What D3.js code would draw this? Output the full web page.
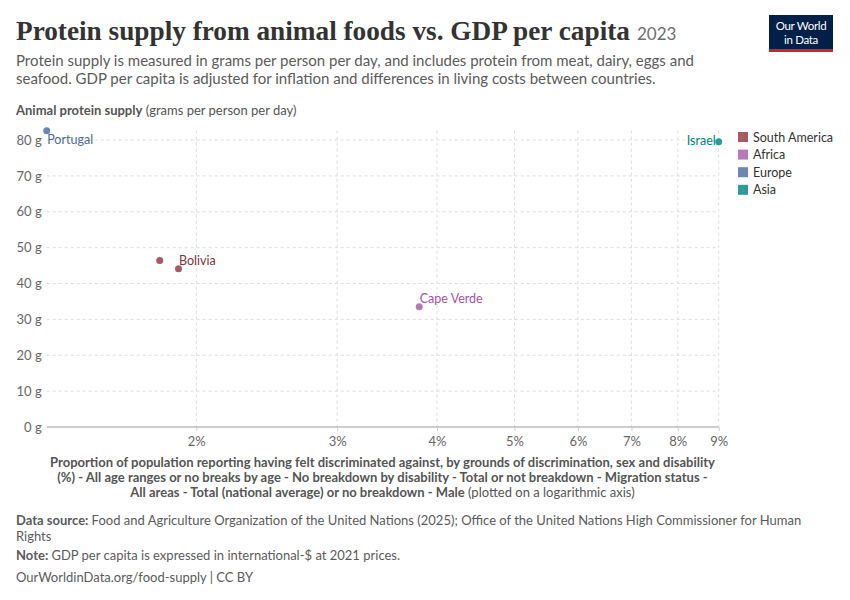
<!DOCTYPE html>
<html>
<head>
<meta charset="utf-8">
<script src="https://cdn.jsdelivr.net/npm/d3@7"></script>
<style>
  body { margin: 0; background: #fff; }
  svg { font-family: Lato, "Noto Sans", sans-serif; }
</style>
</head>
<body>
<svg id="chart" width="850" height="600"></svg>
<script>
// data (2023)
var countries = ["Portugal", "South America point", "Bolivia", "Cape Verde", "Israel"];
var regions = ["Europe", "South America", "South America", "Africa", "Asia"];
var discrimination = [1.30, 1.80, 1.90, 3.80, 9.0];   // % of males, log axis
var animalProtein = [82.6, 46.4, 44.1, 33.5, 79.5];   // g per person per day
var labelled = [true, false, true, true, true];

var legendRegions = ["South America", "Africa", "Europe", "Asia"];
var regionColors = ["#a55a64", "#b879b8", "#6e86b4", "#2e9c94"];
var labelColors = ["#883039", "#a2559c", "#4c6a9c", "#00847e"];
var yTicks = [0, 10, 20, 30, 40, 50, 60, 70, 80];
var xTicks = [2, 3, 4, 5, 6, 7, 8, 9];

var svg = d3.select("#chart");
var margin = {left: 46.7, right: 718.7, top: 130.7, bottom: 427};

var points = countries.map(function(c, i){
  return {name: c, region: regions[i], x: discrimination[i], y: animalProtein[i], label: labelled[i]};
});

var color = d3.scaleOrdinal().domain(legendRegions).range(regionColors);
var labelColor = d3.scaleOrdinal().domain(legendRegions).range(labelColors);

var x = d3.scaleLog()
    .domain(d3.extent(discrimination))
    .range([margin.left, margin.right]);
var y = d3.scaleLinear()
    .domain([0, d3.max(animalProtein)])
    .range([margin.bottom, margin.top]);

// title
var title = svg.append("text")
    .attr("x", 16)
    .attr("y", 40)
    .attr("font-family", "'Liberation Serif', 'DejaVu Serif', serif")
    .attr("font-weight", "bold")
    .attr("font-size", 25)
    .attr("fill", "#333")
    .text("Protein supply from animal foods vs. GDP per capita");
var tw = title.node().getComputedTextLength();
title.attr("font-size", 25 * 614 / tw);
svg.append("text")
    .attr("x", 637)
    .attr("y", 40)
    .attr("font-size", 17)
    .attr("fill", "#6e6e6e")
    .text("2023");

// subtitle
var subtitle = [
  "Protein supply is measured in grams per person per day, and includes protein from meat, dairy, eggs and",
  "seafood. GDP per capita is adjusted for inflation and differences in living costs between countries."
];
svg.selectAll(".sub")
    .data(subtitle)
    .enter().append("text")
    .attr("class", "sub")
    .attr("x", 16)
    .attr("y", function(d, i){ return 66 + i * 18; })
    .attr("font-size", 15)
    .attr("fill", "#5b5b5b")
    .text(function(d){ return d; });

// logo
var logo = svg.append("g").attr("transform", "translate(769,15)");
logo.append("rect").attr("width", 64).attr("height", 36).attr("fill", "#002147");
logo.append("rect").attr("y", 34).attr("width", 64).attr("height", 3).attr("fill", "#ce261e");
logo.selectAll("text")
    .data(["Our World", "in Data"])
    .enter().append("text")
    .attr("x", 32)
    .attr("y", function(d, i){ return 15 + i * 13.5; })
    .attr("text-anchor", "middle")
    .attr("font-size", 11.5)
    .attr("fill", "#fff")
    .attr("letter-spacing", -0.3)
    .text(function(d){ return d; });

// y axis title
var yt = svg.append("text")
    .attr("x", 16)
    .attr("y", 115)
    .attr("font-size", 13)
    .attr("fill", "#555");
yt.append("tspan").attr("font-weight", "bold").text("Animal protein supply");
yt.append("tspan").text(" (grams per person per day)");

// gridlines
svg.append("g")
    .selectAll("line")
    .data(yTicks.filter(function(d){ return d > 0; }))
    .enter().append("line")
    .attr("x1", margin.left)
    .attr("x2", margin.right)
    .attr("y1", function(d){ return y(d); })
    .attr("y2", function(d){ return y(d); })
    .attr("stroke", "#ddd")
    .attr("stroke-dasharray", "3,3");

svg.append("g")
    .selectAll("line")
    .data(xTicks)
    .enter().append("line")
    .attr("x1", function(d){ return x(d); })
    .attr("x2", function(d){ return x(d); })
    .attr("y1", margin.top)
    .attr("y2", margin.bottom)
    .attr("stroke", "#ddd")
    .attr("stroke-dasharray", "3,3");

// y axis labels
var yAxis = d3.axisLeft(y)
    .tickValues(yTicks)
    .tickSize(0)
    .tickPadding(5)
    .tickFormat(function(d){ return d + " g"; });
var gy = svg.append("g")
    .attr("transform", "translate(" + margin.left + ",0)")
    .call(yAxis);
gy.select(".domain").remove();
gy.selectAll("text")
    .attr("font-family", "Lato, sans-serif")
    .attr("font-size", 13)
    .attr("fill", "#666");

// x axis
var xAxis = d3.axisBottom(x)
    .tickValues(xTicks)
    .tickSize(4)
    .tickPadding(6)
    .tickFormat(function(d){ return d + "%"; });
var gx = svg.append("g")
    .attr("transform", "translate(0," + margin.bottom + ")")
    .call(xAxis);
gx.select(".domain").attr("stroke", "#999").attr("d", "M" + margin.left + ",0H" + margin.right);
gx.selectAll(".tick line").attr("stroke", "#ccc");
gx.selectAll("text")
    .attr("font-family", "Lato, sans-serif")
    .attr("font-size", 13)
    .attr("fill", "#666");

// x axis title
var xTitle = [
  [["Proportion of population reporting having felt discriminated against, by grounds of discrimination, sex and disability", true]],
  [["(%) - All age ranges or no breaks by age - No breakdown by disability - Total or not breakdown - Migration status -", true]],
  [["All areas - Total (national average) or no breakdown - Male", true], [" (plotted on a logarithmic axis)", false]]
];
xTitle.forEach(function(parts, i){
  var t = svg.append("text")
      .attr("x", 382.5)
      .attr("y", 467 + i * 15)
      .attr("text-anchor", "middle")
      .attr("font-size", 13)
      .attr("fill", "#555");
  parts.forEach(function(p){
    t.append("tspan").attr("font-weight", p[1] ? "bold" : "normal").text(p[0]);
  });
});

// points
svg.append("g")
    .selectAll("circle")
    .data(points)
    .enter().append("circle")
    .attr("cx", function(d){ return x(d.x); })
    .attr("cy", function(d){ return y(d.y); })
    .attr("r", 3.5)
    .attr("fill", function(d){ return color(d.region); });

// labels: placed to the side with free space
svg.append("g")
    .selectAll("text")
    .data(points.filter(function(d){ return d.label; }))
    .enter().append("text")
    .attr("x", function(d){
      var px = x(d.x);
      return px > margin.right - 20 ? px - 3 : px + 0.5;
    })
    .attr("y", function(d){
      var py = y(d.y);
      if (py < margin.top + 5) return py + 13;   // near top edge: below
      if (x(d.x) > margin.right - 20) return py + 3;
      return py - 4;
    })
    .attr("text-anchor", function(d){ return x(d.x) > margin.right - 20 ? "end" : "start"; })
    .attr("font-size", 12.5)
    .attr("fill", function(d){ return labelColor(d.region); })
    .text(function(d){ return d.name; });

// legend
var legend = svg.append("g").attr("transform", "translate(738,132)");
var li = legend.selectAll("g")
    .data(legendRegions)
    .enter().append("g")
    .attr("transform", function(d, i){ return "translate(0," + i * 17.6 + ")"; });
li.append("rect")
    .attr("width", 10)
    .attr("height", 10)
    .attr("fill", function(d){ return color(d); });
li.append("text")
    .attr("x", 15)
    .attr("y", 9.5)
    .attr("font-size", 12.5)
    .attr("fill", "#333")
    .text(function(d){ return d; });

// footer
var footer = [
  [["Data source: ", true], ["Food and Agriculture Organization of the United Nations (2025); Office of the United Nations High Commissioner for Human", false]],
  [["Rights", false]],
  [["Note: ", true], ["GDP per capita is expressed in international-$ at 2021 prices.", false]],
  [["OurWorldinData.org/food-supply | CC BY", false]]
];
var footerY = [525, 541, 560, 582];
footer.forEach(function(parts, i){
  var t = svg.append("text")
      .attr("x", 16)
      .attr("y", footerY[i])
      .attr("font-size", 13)
      .attr("fill", "#5b5b5b");
  parts.forEach(function(p){
    t.append("tspan").attr("font-weight", p[1] ? "bold" : "normal").text(p[0]);
  });
});
</script>
</body>
</html>
